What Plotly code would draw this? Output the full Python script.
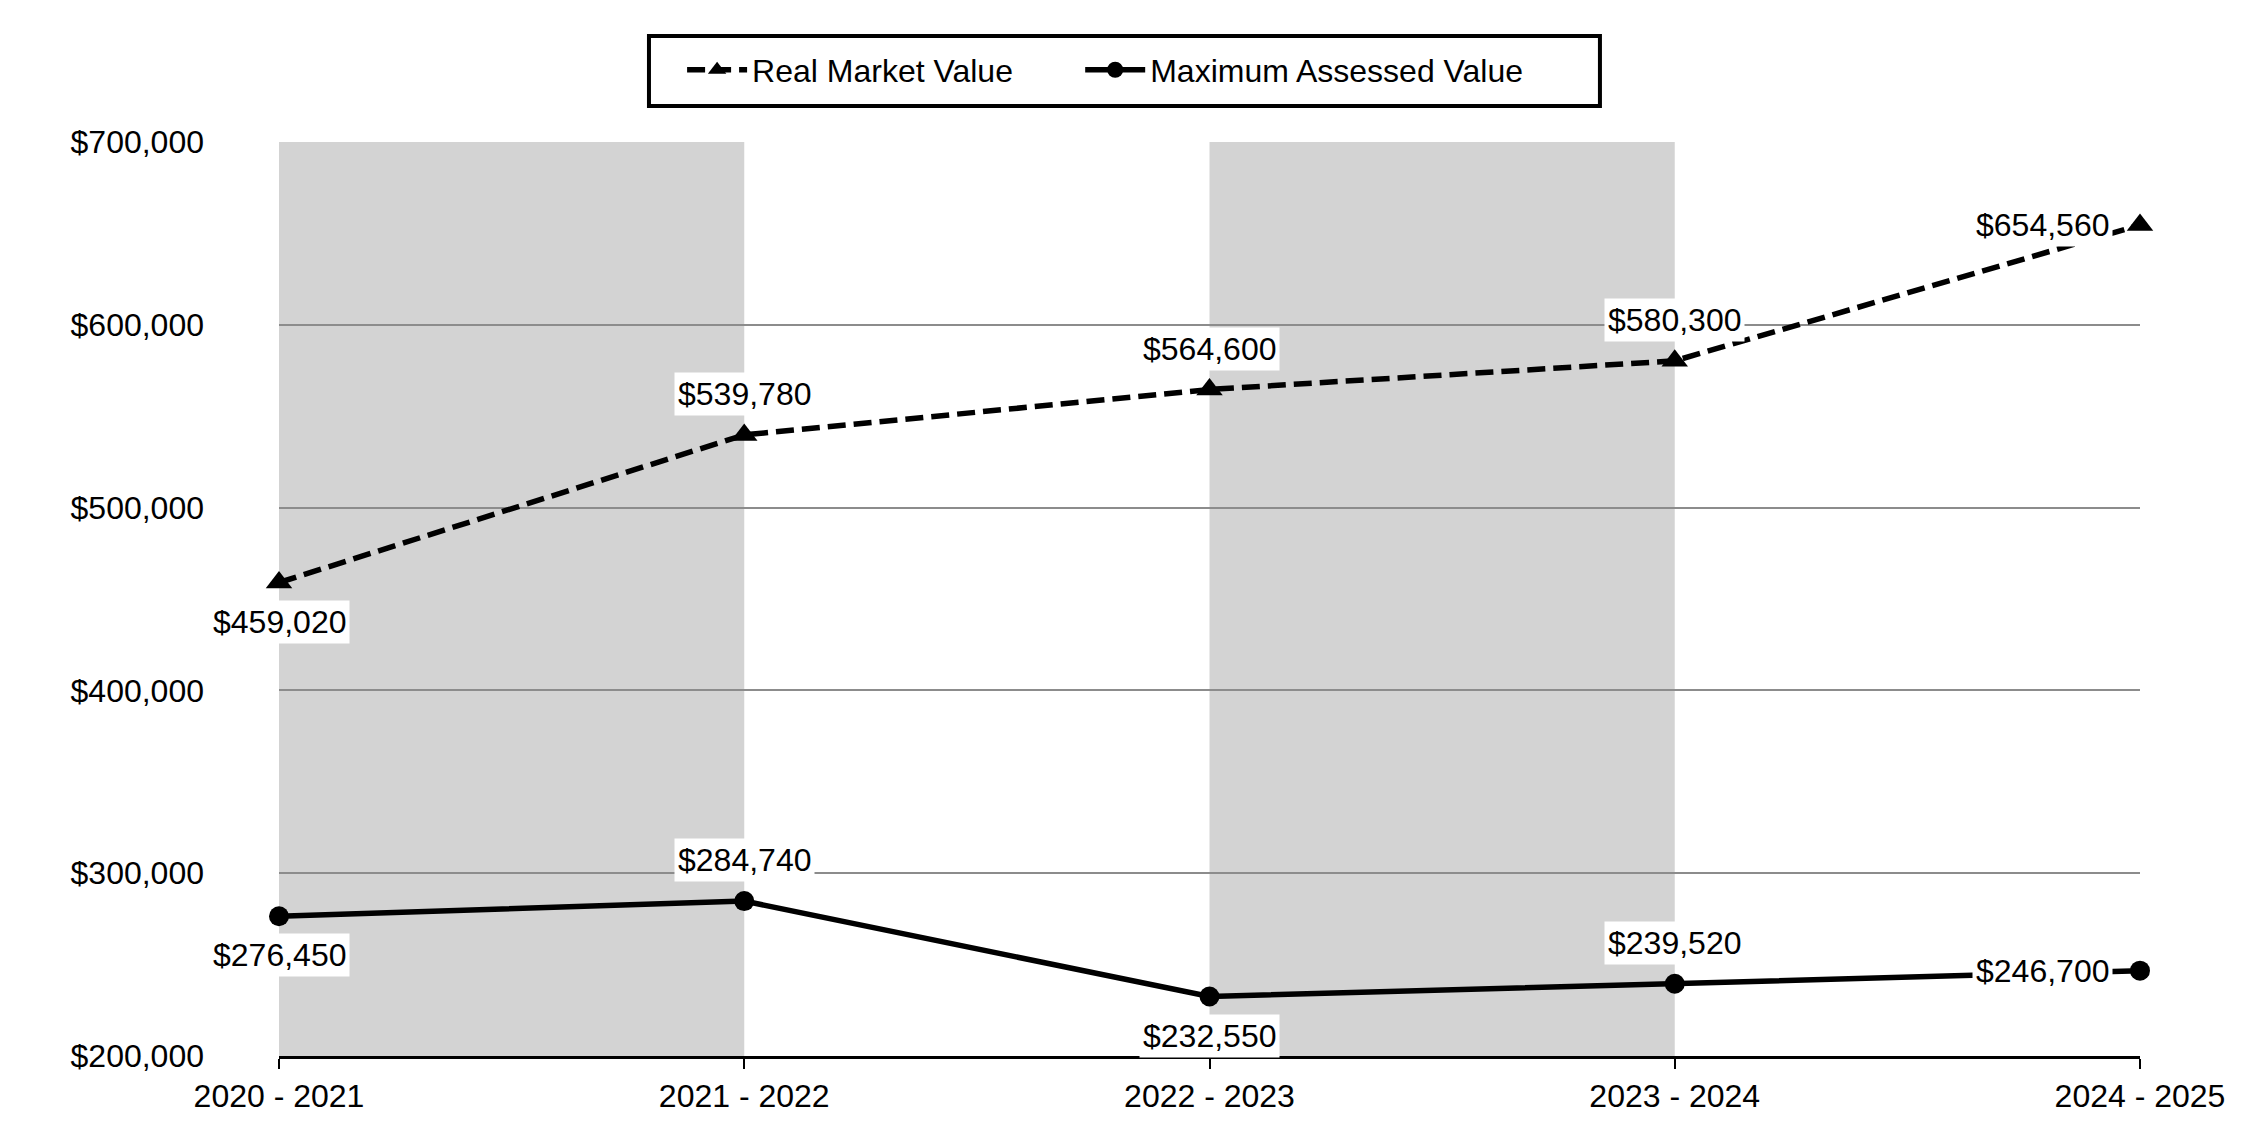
import plotly.graph_objects as go

years = ["2020 - 2021", "2021 - 2022", "2022 - 2023", "2023 - 2024", "2024 - 2025"]
real_market = [459020, 539780, 564600, 580300, 654560]
max_assessed = [276450, 284740, 232550, 239520, 246700]
rmv_label_pos = ["below", "above", "above", "above", "left"]
mav_label_pos = ["below", "above", "below", "above", "left"]
shaded_bands = [(0, 1), (2, 3)]

FONT = "Liberation Sans, Arial, sans-serif"
FS = 32
NBSP = "\u00a0"

fig = go.Figure()
fig.add_trace(go.Scatter(
    x=years, y=real_market, name="Real Market Value" + NBSP * 7, mode="lines+markers",
    line=dict(color="black", width=5.5, dash="18px,8px"),
    marker=dict(symbol="triangle-up", size=23, color="black"),
    cliponaxis=False,
))
fig.add_trace(go.Scatter(
    x=years, y=max_assessed, name="Maximum Assessed Value", mode="lines+markers",
    line=dict(color="black", width=5.5),
    marker=dict(symbol="circle", size=20, color="black"),
    cliponaxis=False,
))

for x0, x1 in shaded_bands:
    fig.add_shape(type="rect", xref="x", yref="paper", x0=x0, x1=x1, y0=0, y1=1,
                  fillcolor="#d3d3d3", line=dict(width=0), layer="below")

# legend frame
fig.add_shape(type="rect", xref="paper", yref="paper", x0=0.1988, x1=0.7098,
              y0=1.0394, y1=1.116, line=dict(color="black", width=4),
              fillcolor="rgba(0,0,0,0)", layer="above")

def add_labels(values, positions):
    for i, (v, p) in enumerate(zip(values, positions)):
        xs, ys = 0, 0
        if p == "above":
            ys = 41
        elif p == "below":
            ys = -39
        elif p == "left":
            xs = -98
        fig.add_annotation(x=years[i], y=v, text="$" + format(v, ","), showarrow=False,
                           xshift=xs, yshift=ys, bgcolor="white", borderpad=3,
                           font=dict(family=FONT, size=FS, color="black"))

add_labels(real_market, rmv_label_pos)
add_labels(max_assessed, mav_label_pos)

fig.update_layout(
    width=2250, height=1140,
    margin=dict(l=271, r=118, t=134, b=92),
    paper_bgcolor="white", plot_bgcolor="white",
    font=dict(family=FONT, size=FS, color="black"),
    showlegend=True,
    legend=dict(orientation="h", x=0.2166, xanchor="left", y=1.0788, yanchor="middle",
                borderwidth=0, bgcolor="rgba(0,0,0,0)",
                font=dict(family=FONT, size=FS, color="black"),
                itemwidth=60),
    xaxis=dict(type="category", range=[0, 4], showgrid=False, showline=True,
               linecolor="black", linewidth=3, ticks="outside", ticklen=10,
               tickwidth=2, tickcolor="black", zeroline=False,
               tickfont=dict(family=FONT, size=FS, color="black")),
    yaxis=dict(range=[200000, 700000], dtick=100000, tickprefix="$", tickformat=",",
               showgrid=True, gridcolor="#8c8c8c", gridwidth=2, zeroline=False,
               showline=False, ticks="", ticklabelstandoff=74,
               tickfont=dict(family=FONT, size=FS, color="black")),
)

fig.write_html("out.html")
